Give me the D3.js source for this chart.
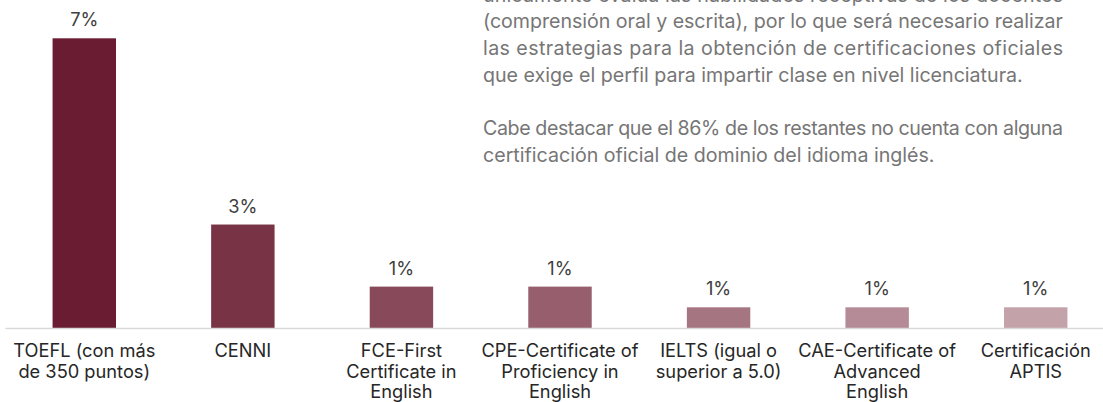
<html>
<head>
<meta charset="UTF-8">
<title>Certificaciones</title>
<script src="https://d3js.org/d3.v7.min.js"></script>
<style>html,body{margin:0;padding:0;background:#fff;} svg{display:block;}</style>
</head>
<body>
<div id="container"></div>
<script>
// categorias (saltos de linea como en la grafica original)
const categories = [
  "TOEFL (con más\nde 350 puntos)",
  "CENNI",
  "FCE-First\nCertificate in\nEnglish",
  "CPE-Certificate of\nProficiency in\nEnglish",
  "IELTS (igual o\nsuperior a 5.0)",
  "CAE-Certificate of\nAdvanced\nEnglish",
  "Certificación\nAPTIS"
];
const values = [7.0, 2.5, 1.0, 1.0, 0.5, 0.5, 0.5];
const valueLabels = ["7%", "3%", "1%", "1%", "1%", "1%", "1%"];
const barColors = ["#691c32", "#783345", "#884a5b", "#975f6d", "#a57582", "#b48b96", "#c3a2aa"];

// texto a la derecha; true = linea justificada
const noteLines = [
  "únicamente evalúa las habilidades receptivas de los docentes",
  "(comprensión oral y escrita), por lo que será necesario realizar",
  "las estrategias para la obtención de certificaciones oficiales",
  "que exige el perfil para impartir clase en nivel licenciatura.",
  "",
  "Cabe destacar que el 86% de los restantes no cuenta con alguna",
  "certificación oficial de dominio del idioma inglés."
];
const noteJustified = [true, true, true, false, false, true, false];

const width = 1103, height = 402;
const fontFamily = "Inter, 'Noto Sans', sans-serif";

const svg = d3.select("#container").append("svg")
  .attr("width", width)
  .attr("height", height)
  .style("font-family", fontFamily);

const x = d3.scaleBand()
  .domain(categories)
  .range([5, 1115])
  .paddingInner(0.6)
  .paddingOuter(0.3);

const y = d3.scaleLinear()
  .domain([0, 7])
  .range([328, 38.3]);

// ajusta el tamano de letra para que un texto mida lo deseado
function fitSize(text, target, base) {
  const t = svg.append("text").attr("font-size", base).text(text);
  const w = t.node().getComputedTextLength();
  t.remove();
  return base * target / w;
}

const labelSize = fitSize("TOEFL (con más", 142, 18);
const noteSize = fitSize(noteLines[3], 540, 17);

// barras
svg.append("g").selectAll("rect")
  .data(values)
  .join("rect")
  .attr("x", (d, i) => x(categories[i]))
  .attr("width", x.bandwidth())
  .attr("y", d => y(d))
  .attr("height", d => y(0) - y(d))
  .attr("fill", (d, i) => barColors[i]);

// eje
const axis = svg.append("g")
  .attr("transform", "translate(0," + y(0) + ")")
  .call(d3.axisBottom(x).tickSize(0).tickSizeOuter(0).tickFormat(""));
axis.select(".domain").attr("stroke", "#d9d9d9").attr("stroke-width", 1.5);

// etiquetas de valor
svg.append("g").selectAll("text")
  .data(values)
  .join("text")
  .attr("x", (d, i) => x(categories[i]) + x.bandwidth() / 2)
  .attr("y", d => y(d) - 12)
  .attr("text-anchor", "middle")
  .attr("font-size", labelSize)
  .attr("fill", "#404040")
  .text((d, i) => valueLabels[i]);

// etiquetas de categoria
const cat = svg.append("g").selectAll("text")
  .data(categories)
  .join("text")
  .attr("text-anchor", "middle")
  .attr("font-size", labelSize)
  .attr("fill", "#262626");

cat.selectAll("tspan")
  .data(d => d.split("\n").map(s => ({ s: s, c: d })))
  .join("tspan")
  .attr("x", d => x(d.c) + x.bandwidth() / 2)
  .attr("y", (d, i) => 357 + i * 20.5)
  .text(d => d.s);

// parrafo
const note = svg.append("g")
  .attr("font-size", noteSize)
  .attr("fill", "#767676");

note.selectAll("text")
  .data(noteLines)
  .join("text")
  .attr("x", 483)
  .attr("y", (d, i) => 1.6 + i * 26.7)
  .each(function (d, i) {
    if (noteJustified[i]) {
      d3.select(this).attr("textLength", 580).attr("lengthAdjust", "spacing");
    }
  })
  .text(d => d);
</script>
</body>
</html>
